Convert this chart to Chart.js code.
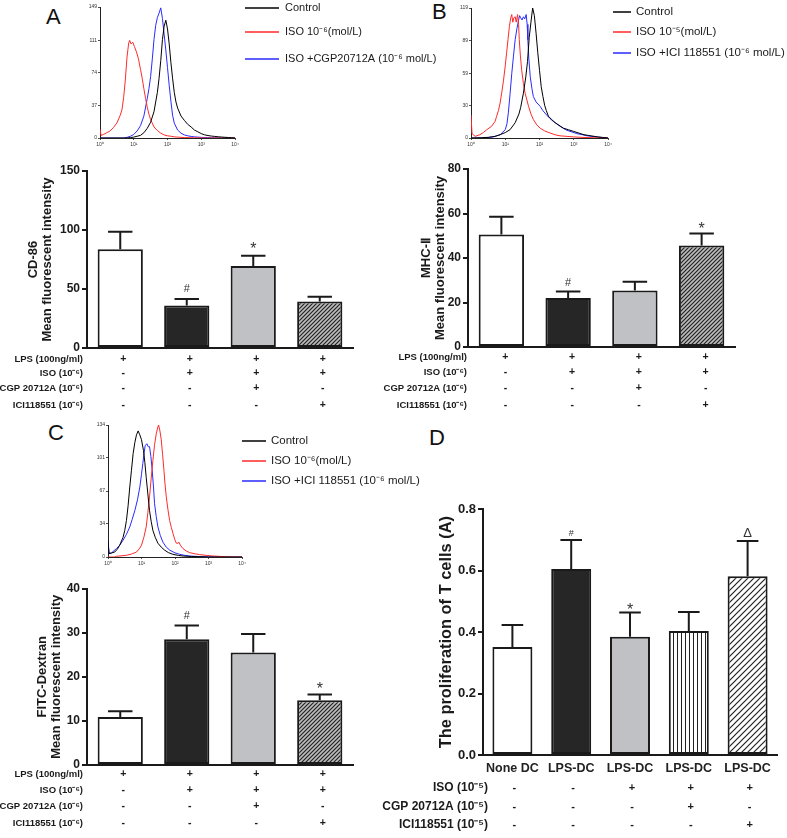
<!DOCTYPE html>
<html>
<head>
<meta charset="utf-8">
<script src="https://cdn.jsdelivr.net/npm/chart.js@4.4.0/dist/chart.umd.min.js"></script>
<style>
    body { margin: 0; background: #fff; }
    #figure { position: relative; width: 787px; height: 838px; overflow: hidden; background: #fff; }
    #figure canvas { position: absolute; left: 0; top: 0; }
    .panel-letter { position: absolute; font: 22px 'Liberation Sans', Arial, sans-serif; line-height: 22px; color: #111; }
</style>
</head>
<body>
<div id="figure">
    <div class="panel-letter" style="left:46px; top:6px">A</div>
    <div class="panel-letter" style="left:432px; top:1px">B</div>
    <div class="panel-letter" style="left:48px; top:422px">C</div>
    <div class="panel-letter" style="left:429px; top:427px">D</div>
    <canvas id="histA" width="787" height="838"></canvas>
    <canvas id="histB" width="787" height="838"></canvas>
    <canvas id="histC" width="787" height="838"></canvas>
    <canvas id="barA" width="787" height="838"></canvas>
    <canvas id="barB" width="787" height="838"></canvas>
    <canvas id="barC" width="787" height="838"></canvas>
    <canvas id="barD" width="787" height="838"></canvas>
</div>
<script>
const FF = "'Liberation Sans', Arial, Helvetica, sans-serif";

// Histogrammes de cytométrie : [log10 intensité, nombre d'événements]
const decadeTicks = [0, 1, 2, 3, 4];
const decadeLabels = ['10⁰', '10¹', '10²', '10³', '10⁴'];

const histTicksA = [0, 37, 74, 111, 149];
const ctrlA = [[0,0],[0.8,0],[0.9,0.5],[1.0,1],[1.1,2],[1.2,3],[1.3,6],[1.4,11],[1.5,18],[1.6,30],[1.7,52],[1.75,68],[1.8,88],[1.85,112],[1.9,127],[1.95,134],[2.0,124],[2.05,107],[2.1,86],[2.15,68],[2.2,52],[2.25,41],[2.3,34],[2.4,25],[2.5,20],[2.6,15.5],[2.7,12.5],[2.8,9],[2.9,7],[3.0,5],[3.1,3.6],[3.2,2.8],[3.3,2.2],[3.4,1.8],[3.5,1.4],[3.6,1.1],[3.7,0.8],[3.8,0.6],[3.9,0.3],[4.0,0]];
const isoA = [[0,10],[0.03,3],[0.1,4],[0.2,6],[0.3,8],[0.4,12],[0.5,17],[0.6,26],[0.65,32],[0.7,46],[0.75,66],[0.8,92],[0.85,108],[0.88,111],[0.92,107],[0.97,109],[1.02,104],[1.08,98],[1.14,90],[1.2,78],[1.25,68],[1.3,56],[1.35,45],[1.4,35],[1.45,27],[1.5,21],[1.6,12.5],[1.7,8.5],[1.8,5.5],[1.9,3.5],[2.0,2.5],[2.1,2],[2.2,1.3],[2.3,1],[2.5,0.5],[2.8,0.2],[3.2,0],[4.0,0]];
const cgpA = [[0,0],[0.7,0],[0.8,0.7],[0.9,2],[1.0,4],[1.1,8],[1.2,14],[1.3,25],[1.4,45],[1.45,56],[1.5,70],[1.55,90],[1.6,112],[1.65,128],[1.7,137],[1.75,142],[1.8,148],[1.85,136],[1.9,118],[1.95,100],[2.0,80],[2.05,60],[2.1,42],[2.15,26],[2.2,17],[2.3,9],[2.4,5.5],[2.5,3.5],[2.6,2.5],[2.7,1.8],[2.8,1.3],[2.9,1],[3.0,0.7],[3.3,0.3],[3.6,0],[4.0,0]];

const histTicksB = [0, 30, 59, 89, 119];
const ctrlB = [[0,0],[0.3,0.3],[0.5,0.6],[0.7,1.5],[0.85,3],[1.0,5],[1.14,7.6],[1.29,14],[1.4,22],[1.45,28],[1.53,41],[1.6,56],[1.65,70],[1.7,92],[1.75,106],[1.8,119],[1.85,112],[1.9,96],[1.95,78],[2.0,62],[2.05,47],[2.1,38],[2.15,30],[2.2,25],[2.26,20],[2.35,17],[2.46,14],[2.6,11],[2.7,9],[2.85,7.5],[3.0,6],[3.15,4.5],[3.3,3],[3.5,2],[3.7,1],[3.85,0.5],[4.0,0]];
const isoB = [[0,21],[0.03,4],[0.12,1.5],[0.26,3],[0.36,5],[0.46,7.6],[0.6,10.7],[0.7,15],[0.75,20],[0.8,25],[0.85,32],[0.9,42],[0.95,53],[1.0,66],[1.04,78],[1.08,90],[1.12,102],[1.16,110],[1.19,113],[1.22,106],[1.25,110],[1.29,111],[1.32,106],[1.36,113],[1.39,104],[1.41,90],[1.44,76],[1.48,62],[1.53,50],[1.58,41],[1.68,29],[1.75,22],[1.82,17],[1.92,12],[2.02,9],[2.15,6.5],[2.31,4.6],[2.45,3],[2.6,2],[2.8,1.5],[3.0,1],[3.3,0.5],[3.6,0.2],[4.0,0]];
const iciB = [[0,0],[0.4,0],[0.65,1],[0.85,3],[1.0,7.6],[1.05,13],[1.09,23],[1.14,40],[1.19,59],[1.24,75],[1.29,90],[1.34,100],[1.39,108],[1.42,112],[1.45,110],[1.49,108],[1.53,111],[1.57,109],[1.61,113],[1.64,104],[1.66,90],[1.69,72],[1.73,56],[1.78,45],[1.82,38],[1.9,33],[2.02,29],[2.1,25],[2.21,21],[2.3,18],[2.41,15],[2.5,13],[2.6,10.7],[2.7,8.7],[2.8,7],[2.95,5.5],[3.09,4],[3.25,3],[3.39,2],[3.6,1.2],[3.78,0.6],[4.0,0]];

const histTicksC = [0, 34, 67, 101, 134];
const ctrlC = [[0,17],[0.03,3.4],[0.1,4],[0.2,5],[0.28,8],[0.35,12],[0.45,20],[0.5,27],[0.55,37],[0.6,52],[0.65,71],[0.7,88],[0.75,105],[0.8,116],[0.85,124],[0.9,128],[0.95,124],[1.0,119],[1.06,108],[1.1,96],[1.14,81],[1.19,64],[1.24,47],[1.29,36],[1.34,27],[1.41,20],[1.49,14],[1.59,10],[1.69,7],[1.8,4.5],[1.94,2.7],[2.1,1.6],[2.24,1],[2.5,0.5],[3.0,0],[4.0,0]];
const isoC = [[0,0],[0.2,0],[0.25,0.7],[0.55,1.7],[0.7,3],[0.85,5],[0.95,9],[1.0,12],[1.07,20],[1.14,30.5],[1.19,45],[1.24,61],[1.29,80],[1.34,98],[1.39,114],[1.44,125],[1.48,131],[1.51,134],[1.55,128],[1.59,119],[1.63,104],[1.67,88],[1.7,75],[1.74,61],[1.79,48],[1.84,37],[1.89,30],[1.94,24],[1.99,18],[2.04,14],[2.09,14],[2.12,15],[2.16,12],[2.24,8.5],[2.34,6],[2.44,4.4],[2.6,3.2],[2.74,2.4],[2.95,1.6],[3.13,1],[3.35,0.6],[3.53,0.3],[3.8,0],[4.0,0]];
const iciC = [[0,17],[0.03,4],[0.1,4],[0.25,8.5],[0.35,12],[0.45,17],[0.55,23],[0.65,30.5],[0.72,38],[0.8,47],[0.88,58],[0.95,71],[1.0,84],[1.04,95],[1.08,106],[1.11,113],[1.16,115],[1.2,112],[1.24,112],[1.28,102],[1.32,88],[1.36,70],[1.39,54],[1.44,41],[1.49,30.5],[1.56,22],[1.64,15],[1.74,10],[1.84,7],[2.0,4.2],[2.14,2.7],[2.3,1.6],[2.44,1],[2.7,0.5],[3.0,0.2],[3.5,0],[4.0,0]];

// Diagrammes en barres : moyenne et erreur standard
const groupsABC = ['Control', 'ISO', 'ISO+CGP', 'ISO+ICI'];
const cd86Mean = [83.6, 36, 69.5, 39.5];
const cd86Sem = [15, 5.5, 8.7, 4];
const cd86Marks = ['', '#', '*', ''];
const mhcMean = [50.6, 22, 25.4, 45.6];
const mhcSem = [7.9, 3, 3.9, 5.4];
const mhcMarks = ['', '#', '', '*'];
const fitcMean = [10.9, 28.5, 25.5, 14.7];
const fitcSem = [1.3, 3.1, 4.2, 1.3];
const fitcMarks = ['', '#', '', '*'];
const groupsD = ['None DC', 'LPS-DC', 'LPS-DC', 'LPS-DC', 'LPS-DC'];
const prolifMean = [0.352, 0.606, 0.385, 0.404, 0.582];
const prolifSem = [0.071, 0.094, 0.079, 0.062, 0.115];
const prolifMarks = ['', '#', '*', '', 'Δ'];

// Lignes de traitement sous les axes
const rowLabelsABC = ['LPS (100ng/ml)', 'ISO (10⁻⁶)', 'CGP 20712A (10⁻⁶)', 'ICI118551 (10⁻⁶)'];
const lpsRow = ['+', '+', '+', '+'];
const isoRow = ['-', '+', '+', '+'];
const cgpRow = ['-', '-', '+', '-'];
const iciRow = ['-', '-', '-', '+'];
const rowLabelsD = ['ISO (10⁻⁵)', 'CGP 20712A (10⁻⁵)', 'ICI118551 (10⁻⁵)'];
const isoRowD = ['-', '-', '+', '+', '+'];
const cgpRowD = ['-', '-', '-', '+', '-'];
const iciRowD = ['-', '-', '-', '-', '+'];

// Motifs de remplissage (hachures)
function makePattern(kind) {
    const c = document.createElement('canvas');
    const g = c.getContext('2d');
    if (kind === 'vertical') {
        c.width = 4; c.height = 4;
        g.fillStyle = '#ffffff'; g.fillRect(0, 0, 4, 4);
        g.fillStyle = '#222'; g.fillRect(1, 0, 1, 4);
    } else {
        const s = kind === 'dense' ? 4 : 6;
        c.width = s; c.height = s;
        g.fillStyle = kind === 'dense' ? '#bdbdbd' : '#ffffff';
        g.fillRect(0, 0, s, s);
        g.strokeStyle = '#222'; g.lineWidth = 1.2;
        g.beginPath();
        g.moveTo(0, s); g.lineTo(s, 0);
        g.moveTo(-1, 1); g.lineTo(1, -1);
        g.moveTo(s - 1, s + 1); g.lineTo(s + 1, s - 1);
        g.stroke();
    }
    return g.createPattern(c, 'repeat');
}
const hatchDense = makePattern('dense');
const hatchLight = makePattern('light');
const stripesVert = makePattern('vertical');

// Légende dessinée à droite des histogrammes
const lineLegendPlugin = {
    id: 'lineLegend',
    afterDraw(chart, args, o) {
        const ctx = chart.ctx;
        ctx.save();
        ctx.font = o.size + 'px ' + FF;
        ctx.textBaseline = 'middle';
        ctx.fillStyle = '#1a1a1a';
        chart.data.datasets.forEach((ds, i) => {
            const y = o.ys[i];
            ctx.strokeStyle = ds.borderColor;
            ctx.lineWidth = 1.5;
            ctx.beginPath();
            ctx.moveTo(o.x0, y);
            ctx.lineTo(o.x1, y);
            ctx.stroke();
            ctx.fillText(ds.label, o.tx, y);
        });
        ctx.restore();
    }
};

// Barres d'erreur (moyenne + SEM) et symboles de signification
const errorBarPlugin = {
    id: 'errorBars',
    afterDatasetsDraw(chart, args, o) {
        const ctx = chart.ctx;
        const yScale = chart.scales.y;
        const meta = chart.getDatasetMeta(0);
        const mean = chart.data.datasets[0].data;
        ctx.save();
        ctx.strokeStyle = '#1a1a1a';
        ctx.lineWidth = 2;
        meta.data.forEach((bar, i) => {
            const top = yScale.getPixelForValue(mean[i] + o.sem[i]);
            const half = bar.width * 0.27;
            ctx.beginPath();
            ctx.moveTo(bar.x, bar.y);
            ctx.lineTo(bar.x, top);
            ctx.moveTo(bar.x - half, top);
            ctx.lineTo(bar.x + half, top);
            ctx.stroke();
            const mark = o.marks[i];
            if (mark) {
                const size = mark === '*' ? 16 : (mark === '#' ? o.hashSize : 13);
                ctx.font = size + 'px ' + FF;
                ctx.fillStyle = '#333';
                ctx.textAlign = 'center';
                ctx.textBaseline = 'alphabetic';
                const m = ctx.measureText(mark);
                ctx.fillText(mark, bar.x, top - o.gap - m.actualBoundingBoxDescent);
            }
        });
        ctx.restore();
    }
};

// Tableau des +/- sous l'axe des x
const treatRowsPlugin = {
    id: 'treatRows',
    afterDraw(chart, args, o) {
        const ctx = chart.ctx;
        const xScale = chart.scales.x;
        ctx.save();
        ctx.fillStyle = '#1a1a1a';
        ctx.textBaseline = 'middle';
        o.rows.forEach((row, k) => {
            ctx.font = 'bold ' + o.labelSize + 'px ' + FF;
            ctx.textAlign = 'right';
            ctx.fillText(o.labels[k], o.labelX, o.ys[k]);
            ctx.font = 'bold ' + o.signSize + 'px ' + FF;
            ctx.textAlign = 'center';
            row.forEach((s, i) => {
                ctx.fillText(s, xScale.getPixelForValue(i) + o.dx, o.ys[k]);
            });
        });
        ctx.restore();
    }
};

function histogram(id, box, curves, yTicks, legend) {
    const ctx = document.getElementById(id).getContext('2d');
    new Chart(ctx, {
        type: 'line',
        data: {
            datasets: curves.map(c => ({
                label: c.label,
                data: c.data,
                borderColor: c.color,
                borderWidth: 1,
                pointRadius: 0,
                tension: 0,
                fill: false
            }))
        },
        options: {
            responsive: false,
            animation: false,
            events: [],
            layout: { padding: { left: box.l - 30, right: 787 - box.r, top: box.t, bottom: 838 - box.b - 14 } },
            scales: {
                x: {
                    type: 'linear', min: 0, max: 4,
                    afterBuildTicks: s => { s.ticks = decadeTicks.map(v => ({ value: v })); },
                    afterFit: s => { s.height = 14; },
                    ticks: { callback: (v, i) => decadeLabels[i], font: { family: FF, size: 5 }, color: '#333', padding: 2, maxRotation: 0, autoSkip: false },
                    grid: { drawOnChartArea: false, tickLength: 2, color: '#222', lineWidth: 0.8 },
                    border: { color: '#222', width: 1 }
                },
                y: {
                    min: 0, max: yTicks[yTicks.length - 1],
                    afterBuildTicks: s => { s.ticks = yTicks.map(v => ({ value: v })); },
                    afterFit: s => { s.width = 30; },
                    ticks: { font: { family: FF, size: 5 }, color: '#333', padding: 1 },
                    grid: { drawOnChartArea: false, tickLength: 2, color: '#222', lineWidth: 0.8 },
                    border: { color: '#222', width: 1 }
                }
            },
            plugins: { legend: { display: false }, tooltip: { enabled: false }, lineLegend: legend }
        },
        plugins: [lineLegendPlugin]
    });
}

function barPanel(id, o) {
    const ctx = document.getElementById(id).getContext('2d');
    new Chart(ctx, {
        type: 'bar',
        data: {
            labels: o.labels,
            datasets: [{
                data: o.mean,
                backgroundColor: o.fills,
                borderColor: '#1a1a1a',
                borderWidth: 2,
                borderSkipped: false,
                barPercentage: 0.68,
                categoryPercentage: 1
            }]
        },
        options: {
            responsive: false,
            animation: false,
            events: [],
            layout: { padding: { left: o.l - o.yW, right: 787 - o.r, top: o.t, bottom: 838 - o.b - o.xH } },
            scales: {
                x: {
                    afterFit: s => { s.height = o.xH; },
                    grid: { display: false, drawTicks: false },
                    border: { display: true, width: 2, color: '#1a1a1a' },
                    ticks: { display: o.showX, font: { family: FF, size: 12.5, weight: 'bold' }, color: '#222', padding: 6, maxRotation: 0, autoSkip: false }
                },
                y: {
                    min: 0, max: o.max,
                    afterFit: s => { s.width = o.yW; },
                    ticks: { stepSize: o.step, font: { family: FF, size: o.tickSize, weight: 'bold' }, color: '#1a1a1a', padding: 2, callback: o.fmt },
                    grid: { drawOnChartArea: false, tickLength: 5, lineWidth: 2, color: '#1a1a1a' },
                    border: { width: 2, color: '#1a1a1a' },
                    title: {
                        display: true, text: o.title, color: '#1a1a1a',
                        font: { family: FF, size: o.titleSize, weight: 'bold', lineHeight: o.titleLH },
                        padding: { top: o.titlePad, bottom: 0 }
                    }
                }
            },
            plugins: {
                legend: { display: false },
                tooltip: { enabled: false },
                errorBars: { sem: o.sem, marks: o.marks, gap: o.gap, hashSize: o.hashSize },
                treatRows: o.rows
            }
        },
        plugins: [errorBarPlugin, treatRowsPlugin]
    });
}

// Panneaux A, B, C : histogrammes
histogram('histA', { l: 100, r: 235, t: 7, b: 138 }, [
    { label: 'Control', data: ctrlA, color: '#000000' },
    { label: 'ISO 10⁻⁶(mol/L)', data: isoA, color: '#ff2a2a' },
    { label: 'ISO +CGP20712A (10⁻⁶ mol/L)', data: cgpA, color: '#2a2aff' }
], histTicksA, { x0: 245, x1: 279, tx: 285, ys: [8, 32, 59], size: 11 });

histogram('histB', { l: 471, r: 608, t: 8, b: 138 }, [
    { label: 'Control', data: ctrlB, color: '#000000' },
    { label: 'ISO 10⁻⁵(mol/L)', data: isoB, color: '#ff2a2a' },
    { label: 'ISO +ICI 118551 (10⁻⁶ mol/L)', data: iciB, color: '#2a2aff' }
], histTicksB, { x0: 613, x1: 631, tx: 636, ys: [12, 32, 53], size: 11.5 });

histogram('histC', { l: 108, r: 242, t: 425, b: 557 }, [
    { label: 'Control', data: ctrlC, color: '#000000' },
    { label: 'ISO 10⁻⁶(mol/L)', data: isoC, color: '#ff2a2a' },
    { label: 'ISO +ICI 118551 (10⁻⁶ mol/L)', data: iciC, color: '#2a2aff' }
], histTicksC, { x0: 242, x1: 266, tx: 271, ys: [441, 461, 481], size: 11.5 });

// Panneaux A, B, C : barres
const fillsABC = ['#ffffff', '#262626', '#c0c1c5', hatchDense];

barPanel('barA', {
    labels: groupsABC, mean: cd86Mean, sem: cd86Sem, marks: cd86Marks, fills: fillsABC,
    l: 87, r: 353, t: 171, b: 348, yW: 87, xH: 10, showX: false,
    max: 150, step: 50, tickSize: 12, fmt: v => v,
    title: ['CD-86', 'Mean fluorescent intensity'], titleSize: 13, titleLH: 1.1, titlePad: 26,
    gap: 7.5, hashSize: 11,
    rows: { labels: rowLabelsABC, rows: [lpsRow, isoRow, cgpRow, iciRow], ys: [359, 373, 388, 405], labelX: 83, dx: 3, labelSize: 9.5, signSize: 10.5 }
});

barPanel('barB', {
    labels: groupsABC, mean: mhcMean, sem: mhcSem, marks: mhcMarks, fills: fillsABC,
    l: 468, r: 735, t: 169, b: 347, yW: 68, xH: 10, showX: false,
    max: 80, step: 20, tickSize: 12, fmt: v => v,
    title: ['MHC-Ⅱ', 'Mean fluorescent intensity'], titleSize: 13, titleLH: 1.05, titlePad: 20,
    gap: 5.5, hashSize: 11,
    rows: { labels: rowLabelsABC, rows: [lpsRow, isoRow, cgpRow, iciRow], ys: [357, 372, 388, 405], labelX: 467, dx: 4, labelSize: 9.5, signSize: 10.5 }
});

barPanel('barC', {
    labels: groupsABC, mean: fitcMean, sem: fitcSem, marks: fitcMarks, fills: fillsABC,
    l: 87, r: 353, t: 588.5, b: 765, yW: 87, xH: 10, showX: false,
    max: 40, step: 10, tickSize: 12, fmt: v => v,
    title: ['FITC-Dextran', 'Mean fluorescent intensity'], titleSize: 13, titleLH: 1.05, titlePad: 36,
    gap: 6.3, hashSize: 11,
    rows: { labels: rowLabelsABC, rows: [lpsRow, isoRow, cgpRow, iciRow], ys: [774, 790, 806.5, 823], labelX: 83, dx: 3, labelSize: 9.5, signSize: 10.5 }
});

// Panneau D : prolifération des lymphocytes T
barPanel('barD', {
    labels: groupsD, mean: prolifMean, sem: prolifSem, marks: prolifMarks,
    fills: ['#ffffff', '#262626', '#c0c1c5', stripesVert, hatchLight],
    l: 483, r: 777, t: 509.3, b: 755, yW: 60, xH: 25, showX: true,
    max: 0.8, step: 0.2, tickSize: 13, fmt: v => Number(v).toFixed(1),
    title: 'The proliferation of T cells (A)', titleSize: 16.4, titleLH: 1.2, titlePad: 14,
    gap: 3.7, hashSize: 9,
    rows: { labels: rowLabelsD, rows: [isoRowD, cgpRowD, iciRowD], ys: [788, 806.5, 825], labelX: 488, dx: 2, labelSize: 12, signSize: 11 }
});
</script>
</body>
</html>
